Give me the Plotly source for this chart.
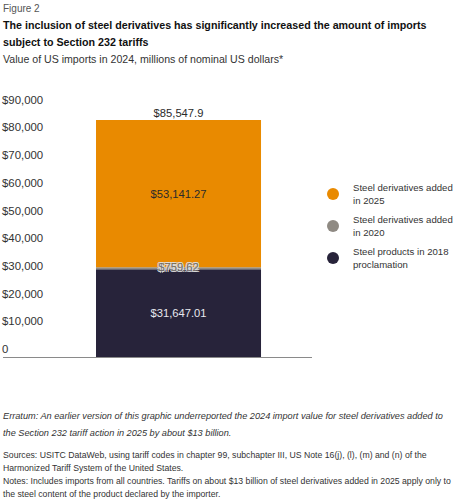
import plotly.graph_objects as go

# ---- data ----
categories = ["Imports 2024"]
series_names = ["Steel products in 2018<br>proclamation",
                "Steel derivatives added<br>in 2020",
                "Steel derivatives added<br>in 2025"]
series_values = [31647.01, 759.62, 53141.27]
total_value = 85547.9
tick_values = [0, 10000, 20000, 30000, 40000, 50000, 60000, 70000, 80000, 90000]
tick_labels = ["0", "$10,000", "$20,000", "$30,000", "$40,000", "$50,000",
               "$60,000", "$70,000", "$80,000", "$90,000"]

colors = ["#27233a", "#8f8a83", "#e98a00"]
text_colors = ["#e8e8ee", "#6f6b67", "#2a2a2a"]
FONT = "Liberation Sans, Arial, sans-serif"

W, H = 458, 500
ML, MR, MT, MB = 3, 146, 88, 143
PW, PH = W - ML - MR, H - MT - MB
Y_TOP = PH / 27.7 * 10000  # keeps 10,000 per 27.7 px

def px(xp):
    return (xp - ML) / PW

def py(yp):
    return (H - MB - yp) / PH

fig = go.Figure()
x = [0]
bar_w = 0.534
cum = 0
for i, (name, val) in enumerate(zip(series_names, series_values)):
    show_inside = val > 5000
    fig.add_trace(go.Bar(
        x=x, y=[val], base=[cum], width=bar_w, name=name,
        marker=dict(color=colors[i], line=dict(width=0)),
        text=["$" + f"{val:,.2f}"] if show_inside else None,
        textposition="inside" if show_inside else "none",
        insidetextanchor="middle",
        textfont=dict(family=FONT, size=11.2, color=text_colors[i]),
        showlegend=False, hoverinfo="skip",
    ))
    if not show_inside:
        fig.add_trace(go.Scatter(
            x=x, y=[cum + val / 2], mode="text",
            text=["$" + f"{val:,.2f}"], textposition="middle center",
            textfont=dict(family=FONT, size=11.2, color=text_colors[i],
                          shadow="1px 1px 0px #dddddd, -1px -1px 0px #dddddd, 1px -1px 0px #dddddd, -1px 1px 0px #dddddd"),
            showlegend=False, hoverinfo="skip"))
    cum += val

# total label
fig.add_trace(go.Scatter(
    x=x, y=[total_value], mode="text",
    text=["$" + f"{total_value:,.1f}"], textposition="top center",
    textfont=dict(family=FONT, size=11.2, color="#2a2a2a"),
    showlegend=False, hoverinfo="skip"))

# legend entries (circles)
for i in [2, 1, 0]:
    fig.add_trace(go.Scatter(
        x=[None], y=[None], mode="markers", name=series_names[i],
        legendgroup=f"g{i}",
        marker=dict(color=colors[i], size=11, symbol="circle"),
        showlegend=True))

fig.update_layout(
    width=W, height=H,
    margin=dict(l=ML, r=MR, t=MT, b=MB, autoexpand=False),
    paper_bgcolor="white", plot_bgcolor="white",
    barmode="overlay",
    font=dict(family=FONT, size=11, color="#333333"),
    showlegend=True,
    legend=dict(x=px(313), y=py(175), xanchor="left", yanchor="top",
                font=dict(family=FONT, size=9.6, color="#333333"),
                tracegroupgap=4, itemsizing="constant",
                bgcolor="rgba(0,0,0,0)"),
    xaxis=dict(range=[-0.568, 0.432], showticklabels=False, showgrid=False,
               zeroline=False, showline=True, linecolor="#8a8a8a", linewidth=1,
               ticks="", fixedrange=True),
    yaxis=dict(range=[0, Y_TOP], tickvals=tick_values, ticktext=tick_labels,
               ticklabelposition="inside top", ticklabelstandoff=-4,
               showgrid=False, zeroline=False,
               showline=False, ticks="",
               tickfont=dict(family=FONT, size=11.4, color="#333333")),
)

ann = [
    ("Figure 2", 1, 10, "#555555"),
    ("<b>The inclusion of steel derivatives has significantly increased the amount of imports</b>", 17, 10.7, "#111111"),
    ("<b>subject to Section 232 tariffs</b>", 34, 10.7, "#111111"),
    ("Value of US imports in 2024, millions of nominal US dollars*", 51, 10.6, "#333333"),
    ("<i>Erratum: An earlier version of this graphic underreported the 2024 import value for steel derivatives added to</i>", 409, 9.2, "#333333"),
    ("<i>the Section 232 tariff action in 2025 by about $13 billion.</i>", 426, 9.2, "#333333"),
    ("Sources: USITC DataWeb, using tariff codes in chapter 99, subchapter III, US Note 16(j), (l), (m) and (n) of the", 448, 8.7, "#333333"),
    ("Harmonized Tariff System of the United States.", 461, 8.7, "#333333"),
    ("Notes: Includes imports from all countries. Tariffs on about $13 billion of steel derivatives added in 2025 apply only to", 474, 8.7, "#333333"),
    ("the steel content of the product declared by the importer.", 487, 8.7, "#333333"),
]
for text, ytop, size, color in ann:
    fig.add_annotation(text=text, x=px(1), y=py(ytop), xref="paper", yref="paper",
                       xanchor="left", yanchor="top", showarrow=False, align="left",
                       font=dict(family=FONT, size=size, color=color))

fig.write_html("out.html")
